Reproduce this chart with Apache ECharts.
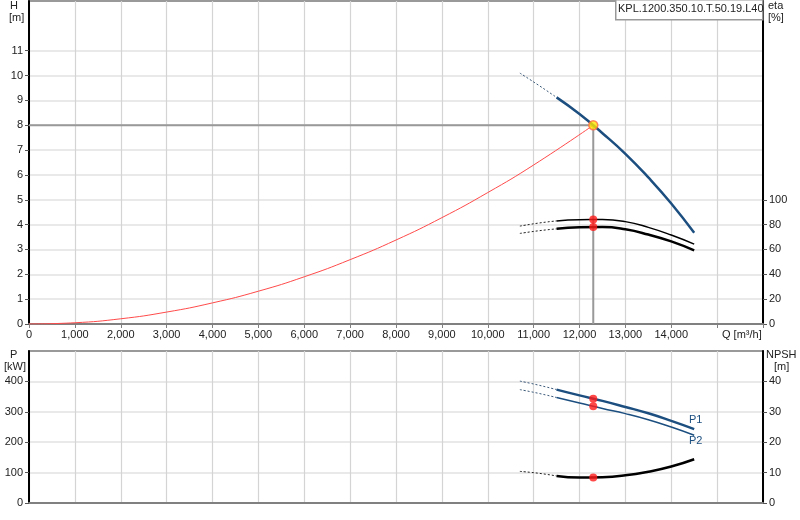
<!DOCTYPE html>
<html>
<head>
<meta charset="utf-8">
<style>
  html, body { margin: 0; padding: 0; background: #fff; }
  #chart { width: 800px; height: 520px; }
</style>
<script src="https://cdn.jsdelivr.net/npm/echarts@6.0.0/dist/echarts.min.js"></script>
</head>
<body>
<div id="chart"></div>
<script>
// Pump curves. Q in m3/h.
const pumpName = "KPL.1200.350.10.T.50.19.L40"
const opQ = 12300
const opH = 8.0

// head curve (solid part) and its dotted extension to the left
const headCurve = [[11500, 9.12], [12000, 8.45], [12500, 7.68], [13000, 6.85], [13500, 5.9], [14000, 4.85], [14500, 3.67]]
const headExt = [[10700, 10.1], [11100, 9.62], [11500, 9.12]]

// system curve through the duty point
const systemCurve = [[0, 0], [1000, 0.05], [2000, 0.21], [3000, 0.48], [4000, 0.85], [5000, 1.32], [6000, 1.9],
  [7000, 2.59], [8000, 3.38], [9000, 4.28], [10000, 5.29], [11000, 6.4], [12300, 8.0]]

// efficiencies [%]
const etaUpper = [[11500, 83.0], [12000, 84.0], [12500, 84.1], [13000, 82.4], [13500, 77.8], [14000, 71.6], [14500, 64.3]]
const etaUpperExt = [[10700, 78.8], [11100, 81.2], [11500, 83.0]]
const etaLower = [[11500, 76.6], [12000, 77.8], [12500, 78.0], [13000, 76.2], [13500, 72.0], [14000, 66.5], [14500, 59.3]]
const etaLowerExt = [[10700, 72.9], [11100, 75.0], [11500, 76.6]]

// power [kW]
const p1Curve = [[11500, 373], [12000, 354], [12500, 336], [13000, 316], [13500, 295], [14000, 270], [14500, 243]]
const p1Ext = [[10700, 401], [11100, 388], [11500, 373]]
const p2Curve = [[11500, 347], [12000, 329], [12500, 311], [13000, 294], [13500, 274], [14000, 250], [14500, 223]]
const p2Ext = [[10700, 373], [11100, 361], [11500, 347]]

// NPSH [m]
const npshCurve = [[11500, 8.9], [12000, 8.4], [12500, 8.5], [13000, 9.1], [13500, 10.3], [14000, 12.0], [14500, 14.4]]
const npshExt = [[10700, 10.4], [11100, 9.8], [11500, 8.9]]

// duty point values on the other curves
const dutyEta = [[opQ, 84.1], [opQ, 78.0]]
const dutyP = [[opQ, 343], [opQ, 318]]
const dutyNpsh = [[opQ, 8.35]]

const qTicks = [0, 1000, 2000, 3000, 4000, 5000, 6000, 7000, 8000, 9000, 10000, 11000, 12000, 13000, 14000]
const hTicks = [0, 1, 2, 3, 4, 5, 6, 7, 8, 9, 10, 11]
const etaTicks = [0, 20, 40, 60, 80, 100]
const pTicks = [0, 100, 200, 300, 400]
const npshTicks = [0, 10, 20, 30, 40]

const FONT = "Liberation Sans, Arial, sans-serif"
const BLUE = "#1c4f80"
const TXT = "#222"

const labelStyle = { color: TXT, fontSize: 11, fontFamily: FONT }

function xAxis(gridIndex, withLabels) {
  return {
    type: "value", gridIndex, min: 0, max: 16000, interval: 1000,
    axisLine: { show: true, onZero: false, lineStyle: { color: "#808080", width: 2 } },
    axisTick: { show: withLabels, length: 4, lineStyle: { color: "#808080" } },
    axisLabel: {
      show: withLabels, ...labelStyle, margin: 5, customValues: qTicks,
      formatter: v => v.toLocaleString("en-US"),
    },
    splitLine: { show: true, lineStyle: { color: "#d4d4d4", width: 1.2 } },
  }
}

function yAxis(gridIndex, position, max, interval, ticks) {
  return {
    type: "value", gridIndex, position, min: 0, max, interval,
    axisLine: { show: true, onZero: false, lineStyle: { color: "#000", width: 2 } },
    axisTick: { show: true, length: 4, inside: false, customValues: ticks, lineStyle: { color: "#555" } },
    axisLabel: { ...labelStyle, margin: 6, customValues: ticks },
    splitLine: { show: position === "left", lineStyle: { color: "#e2e2e2", width: 1.5 } },
  }
}

function line(data, x, y, color, width, opts = {}) {
  return {
    type: "line", xAxisIndex: x, yAxisIndex: y, data, showSymbol: false, symbol: "none",
    smooth: true, lineStyle: { color, width, ...(opts.lineStyle || {}) }, silent: true,
    z: opts.z || 3,
  }
}

function dotted(data, x, y, color) {
  return line(data, x, y, color, 1, { lineStyle: { type: [2, 2] }, z: 2 })
}

function dots(data, x, y) {
  return {
    type: "scatter", xAxisIndex: x, yAxisIndex: y, data, symbolSize: 8,
    itemStyle: { color: "#ff1a1a" }, z: 6, silent: true,
  }
}

const chart = echarts.init(document.getElementById("chart"), null, { renderer: "canvas" })

chart.setOption({
  animation: false,
  backgroundColor: "#fff",
  grid: [
    { left: 29, right: 37, top: 1, height: 323, show: true, borderColor: "#999", borderWidth: 2 },
    { left: 29, right: 37, top: 351, height: 152, show: true, borderColor: "#999", borderWidth: 2 },
  ],
  xAxis: [xAxis(0, true), xAxis(1, false)],
  yAxis: [
    yAxis(0, "left", 13, 1, hTicks),
    yAxis(0, "right", 260, 20, etaTicks),
    yAxis(1, "left", 500, 100, pTicks),
    yAxis(1, "right", 50, 10, npshTicks),
  ],
  series: [
    // duty point guide lines
    {
      type: "line", xAxisIndex: 0, yAxisIndex: 0, data: [[0, opH], [opQ, opH], [opQ, 0]],
      symbol: "none", lineStyle: { color: "#999", width: 2 }, z: 1, silent: true,
    },
    line(systemCurve, 0, 0, "#ff4a4a", 1, { z: 2 }),
    dotted(headExt, 0, 0, "#3a5878"),
    line(headCurve, 0, 0, BLUE, 2.5),
    dotted(etaUpperExt, 0, 1, "#222"),
    line(etaUpper, 0, 1, "#000", 1.5),
    dotted(etaLowerExt, 0, 1, "#222"),
    line(etaLower, 0, 1, "#000", 2.5),
    dots(dutyEta, 0, 1),
    {
      type: "scatter", xAxisIndex: 0, yAxisIndex: 0, data: [[opQ, opH]], symbolSize: 9,
      itemStyle: { color: "#ffe600", borderColor: "#ff6a4a", borderWidth: 1.5 }, z: 7, silent: true,
    },
    dotted(p1Ext, 1, 2, "#3a5878"),
    line(p1Curve, 1, 2, BLUE, 2.5),
    dotted(p2Ext, 1, 2, "#3a5878"),
    line(p2Curve, 1, 2, BLUE, 1.5),
    dots(dutyP, 1, 2),
    dotted(npshExt, 1, 3, "#222"),
    line(npshCurve, 1, 3, "#000", 2.5),
    dots(dutyNpsh, 1, 3),
  ],
  graphic: [
    { type: "text", left: 10, top: 0, style: { text: "H", font: "11px " + FONT, fill: TXT } },
    { type: "text", left: 9, top: 12, style: { text: "[m]", font: "11px " + FONT, fill: TXT } },
    { type: "text", left: 768, top: 0, style: { text: "eta", font: "11px " + FONT, fill: TXT } },
    { type: "text", left: 768, top: 12, style: { text: "[%]", font: "11px " + FONT, fill: TXT } },
    { type: "text", left: 722, top: 329, style: { text: "Q [m³/h]", font: "11px " + FONT, fill: TXT } },
    { type: "text", left: 10, top: 349, style: { text: "P", font: "11px " + FONT, fill: TXT } },
    { type: "text", left: 4, top: 361, style: { text: "[kW]", font: "11px " + FONT, fill: TXT } },
    { type: "text", left: 766, top: 349, style: { text: "NPSH", font: "11px " + FONT, fill: TXT } },
    { type: "text", left: 774, top: 361, style: { text: "[m]", font: "11px " + FONT, fill: TXT } },
    { type: "text", left: 689, top: 414, style: { text: "P1", font: "11px " + FONT, fill: BLUE }, z: 10 },
    { type: "text", left: 689, top: 435, style: { text: "P2", font: "11px " + FONT, fill: BLUE }, z: 10 },
    // pump name box
    {
      type: "rect", left: 615, top: -1, shape: { width: 147, height: 20 },
      style: { fill: "#fff", stroke: "#999", lineWidth: 1.5 }, z: 20,
    },
    { type: "text", left: 618, top: 3, style: { text: pumpName, font: "11px " + FONT, fill: TXT }, z: 21 },
  ],
})
</script>
</body>
</html>
